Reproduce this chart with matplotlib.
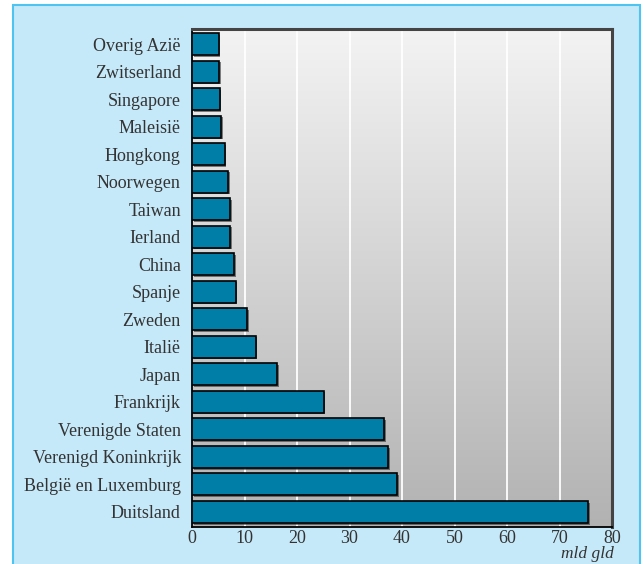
import numpy as np
import matplotlib
matplotlib.use("Agg")
import matplotlib.pyplot as plt
from matplotlib.patches import Rectangle
import matplotlib.patheffects as pe

# values in mld gld
landen = ["Overig Azië", "Zwitserland", "Singapore", "Maleisië", "Hongkong",
          "Noorwegen", "Taiwan", "Ierland", "China", "Spanje", "Zweden",
          "Italië", "Japan", "Frankrijk", "Verenigde Staten",
          "Verenigd Koninkrijk", "België en Luxemburg", "Duitsland"]
waarden = [5.1, 5.2, 5.3, 5.5, 6.2, 6.9, 7.3, 7.3, 8.0, 8.3, 10.5,
           12.1, 16.2, 25.1, 36.6, 37.4, 39.1, 75.4]
xticks = [0, 10, 20, 30, 40, 50, 60, 70, 80]

plt.rcParams["font.family"] = ["Liberation Serif", "DejaVu Serif"]

W, H = 643, 564
fig = plt.figure(figsize=(W / 100, H / 100), dpi=100, facecolor="white")

# light blue panel with a blue border
fig.patches.append(Rectangle((13 / W, -0.01), (640 - 13) / W, (H - 5) / H + 0.01,
                             transform=fig.transFigure, facecolor="#c6e9f9",
                             edgecolor="#4fc4f0", linewidth=1.5, zorder=-5))

ax = fig.add_axes([192 / W, 1 - 527 / H, (612 - 192) / W, (527 - 29) / H])
ax.set_zorder(2)
ax.set_xlim(0, 80)
ax.set_ylim(len(landen) - 0.45, -0.55)

# vertical grey gradient background
grad = np.linspace(0, 1, 256).reshape(-1, 1)
cmap = matplotlib.colors.LinearSegmentedColormap.from_list("g", ["#f3f3f3", "#b2b2b2"])
ax.imshow(grad, aspect="auto", cmap=cmap, extent=[0, 80, len(landen) - 0.45, -0.55],
          zorder=0)

for x in xticks[1:-1]:
    ax.axvline(x, color="white", linewidth=1.3, zorder=1)

bars = ax.barh(range(len(landen)), waarden, height=0.8, color="#017ea7",
               edgecolor="black", linewidth=1.2, zorder=3)
for b in bars:
    b.set_path_effects([pe.SimplePatchShadow(offset=(1.2, -1.2), shadow_rgbFace="#333333",
                                             alpha=0.6), pe.Normal()])

ax.set_yticks(range(len(landen)))
ax.set_yticklabels(landen)
ax.set_xticks(xticks)
ax.tick_params(length=0, labelsize=13, labelcolor="#333333")
ax.tick_params(axis="y", pad=8)
ax.tick_params(axis="x", pad=2)

for s in ["left", "bottom"]:
    ax.spines[s].set_color("black")
    ax.spines[s].set_linewidth(1.3)
for s in ["top", "right"]:
    ax.spines[s].set_color("#444444")
    ax.spines[s].set_linewidth(2.2)

fig.text(614 / W, 1 - 554 / H, "mld gld", ha="right", va="center",
         fontsize=12.5, style="italic", color="#333333")

fig.savefig("out.png", dpi=100, facecolor="white")
